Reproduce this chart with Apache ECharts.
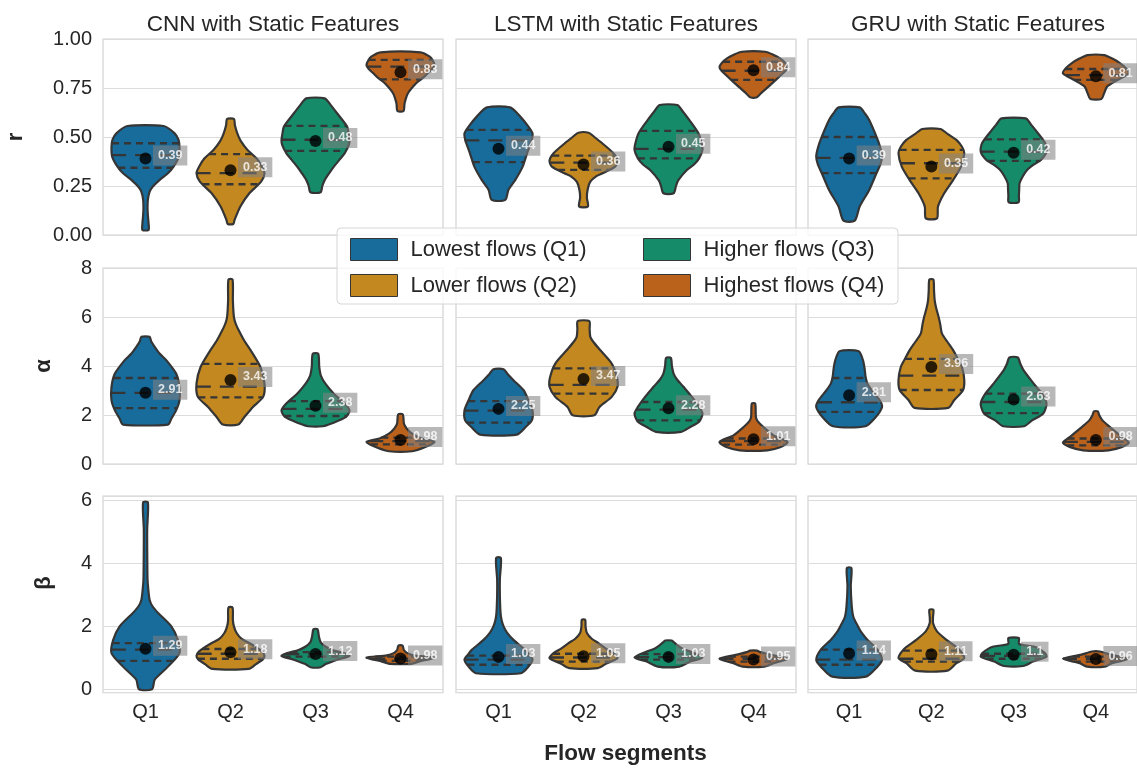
<!DOCTYPE html>
<html>
<head>
<meta charset="utf-8">
<script src="https://cdn.jsdelivr.net/npm/echarts@6/dist/echarts.min.js"></script>
<style>
  html, body { margin: 0; padding: 0; background: #ffffff; }
  #chart { width: 1137px; height: 768px; }
</style>
</head>
<body>
<div id="chart"></div>
<script>
// ---- categories, groups, titles ----
const categories = ['Q1', 'Q2', 'Q3', 'Q4'];
const groupNames = ['Lowest flows (Q1)', 'Lower flows (Q2)', 'Higher flows (Q3)', 'Highest flows (Q4)'];
const groupColors = ['#176c9c', '#c38820', '#158b6a', '#ba611b'];
const modelTitles = ['CNN with Static Features', 'LSTM with Static Features', 'GRU with Static Features'];
const metricNames = ['r', 'α', 'β'];
const xAxisTitle = 'Flow segments';

// ---- y tick labels per metric row ----
const rTicks = [0, 0.25, 0.5, 0.75, 1];
const alphaTicks = [0, 2, 4, 6, 8];
const betaTicks = [0, 2, 4, 6];
const betaRange = [-0.11, 6.15];

// ---- violin outlines: [value, relative half-width], bottom to top ----
const rProfilesCNN = [
  [[0.026,0.09],[0.06,0.09],[0.10,0.07],[0.14,0.06],[0.18,0.07],[0.22,0.12],[0.246,0.21],[0.28,0.41],[0.315,0.66],[0.35,0.83],[0.40,0.98],[0.45,1.0],[0.486,0.97],[0.52,0.85],[0.556,0.53]],
  [[0.056,0.08],[0.077,0.12],[0.145,0.29],[0.214,0.56],[0.272,0.9],[0.315,1.0],[0.35,0.92],[0.39,0.77],[0.434,0.5],[0.48,0.3],[0.519,0.2],[0.56,0.13],[0.592,0.1]],
  [[0.218,0.15],[0.25,0.2],[0.28,0.27],[0.315,0.4],[0.349,0.54],[0.383,0.7],[0.418,0.86],[0.46,0.98],[0.485,1.0],[0.52,0.97],[0.553,0.93],[0.62,0.64],[0.66,0.46],[0.697,0.27]],
  [[0.633,0.09],[0.672,0.12],[0.723,0.22],[0.774,0.46],[0.80,0.65],[0.825,0.8],[0.85,0.95],[0.867,1.0],[0.89,0.95],[0.91,0.86],[0.932,0.59]]
];
const rProfilesLSTM = [
  [[0.179,0.2],[0.23,0.29],[0.28,0.49],[0.349,0.71],[0.417,0.84],[0.46,0.93],[0.485,0.98],[0.519,1.0],[0.553,0.88],[0.604,0.64],[0.651,0.34]],
  [[0.145,0.13],[0.19,0.1],[0.23,0.12],[0.272,0.2],[0.30,0.38],[0.315,0.56],[0.349,0.93],[0.379,1.0],[0.417,0.88],[0.468,0.55],[0.50,0.32],[0.522,0.15]],
  [[0.213,0.15],[0.25,0.22],[0.28,0.29],[0.332,0.54],[0.36,0.75],[0.391,0.9],[0.434,1.0],[0.47,0.97],[0.519,0.88],[0.587,0.61],[0.63,0.42],[0.663,0.26]],
  [[0.703,0.1],[0.723,0.22],[0.765,0.49],[0.79,0.65],[0.816,0.81],[0.84,0.95],[0.859,1.0],[0.88,0.92],[0.901,0.78],[0.92,0.58],[0.935,0.34]]
];
const rProfilesGRU = [
  [[0.073,0.17],[0.145,0.32],[0.23,0.61],[0.315,0.83],[0.36,0.95],[0.40,1.0],[0.45,0.94],[0.502,0.83],[0.587,0.61],[0.62,0.48],[0.651,0.32]],
  [[0.085,0.17],[0.145,0.2],[0.213,0.39],[0.28,0.66],[0.349,0.9],[0.417,1.0],[0.45,0.93],[0.485,0.76],[0.515,0.5],[0.541,0.27]],
  [[0.167,0.15],[0.2,0.16],[0.235,0.17],[0.264,0.18],[0.30,0.28],[0.332,0.41],[0.36,0.62],[0.383,0.83],[0.425,1.0],[0.468,0.96],[0.536,0.66],[0.565,0.52],[0.595,0.37]],
  [[0.694,0.17],[0.723,0.25],[0.757,0.34],[0.791,0.66],[0.825,1.0],[0.85,0.92],[0.876,0.74],[0.9,0.5],[0.918,0.25]]
];
const alphaProfilesCNN = [
  [[1.61,0.66],[1.85,0.76],[2.19,0.9],[2.6,1.0],[3.15,1.0],[3.69,0.9],[4.24,0.61],[4.5,0.42],[4.78,0.27],[5.0,0.17],[5.19,0.12]],
  [[1.61,0.23],[1.92,0.41],[2.33,0.66],[2.74,0.96],[3.28,1.0],[3.96,0.88],[4.65,0.59],[5.0,0.42],[5.33,0.29],[5.7,0.16],[6.0,0.1],[6.69,0.07],[7.53,0.06]],
  [[1.54,0.22],[1.65,0.47],[1.92,0.9],[2.19,1.0],[2.47,0.86],[2.87,0.54],[3.28,0.29],[3.6,0.16],[3.96,0.11],[4.5,0.08]],
  [[0.52,0.34],[0.69,0.73],[0.9,1.0],[1.04,0.62],[1.24,0.34],[1.45,0.18],[1.65,0.1],[2.02,0.07]]
];
const alphaProfilesLSTM = [
  [[1.2,0.54],[1.51,0.8],[1.78,0.98],[2.19,1.0],[2.6,0.88],[3.01,0.74],[3.42,0.44],[3.65,0.28],[3.87,0.15]],
  [[1.99,0.32],[2.33,0.47],[2.74,0.83],[3.15,1.0],[3.56,0.98],[4.1,0.83],[4.65,0.49],[5.0,0.28],[5.19,0.2],[5.5,0.18],[5.83,0.17]],
  [[1.31,0.37],[1.51,0.64],[1.72,0.9],[2.06,1.0],[2.33,0.9],[2.74,0.69],[3.15,0.44],[3.45,0.25],[3.69,0.15],[4.0,0.1],[4.33,0.07]],
  [[0.56,0.41],[0.69,0.8],[0.9,1.0],[1.17,0.59],[1.51,0.29],[1.75,0.12],[1.92,0.07],[2.47,0.05]]
];
const alphaProfilesGRU = [
  [[1.54,0.49],[1.92,0.81],[2.33,1.0],[2.6,0.93],[3.01,0.69],[3.3,0.55],[3.56,0.5],[3.9,0.47],[4.24,0.42],[4.6,0.29]],
  [[2.29,0.51],[2.6,0.69],[3.01,0.96],[3.42,1.0],[3.96,0.93],[4.3,0.8],[4.65,0.66],[5.0,0.48],[5.33,0.32],[5.7,0.27],[6.0,0.22],[6.4,0.14],[6.69,0.1],[7.1,0.08],[7.53,0.06]],
  [[1.54,0.32],[1.78,0.56],[2.06,0.9],[2.47,1.0],[2.87,0.86],[3.28,0.61],[3.83,0.3],[4.1,0.2],[4.35,0.13]],
  [[0.56,0.39],[0.69,0.78],[0.86,1.0],[0.97,0.93],[1.15,0.75],[1.38,0.54],[1.6,0.35],[1.78,0.2],[2.0,0.1],[2.15,0.06]]
];
const betaProfilesCNN = [
  [[0.0,0.19],[0.3,0.27],[0.5,0.45],[0.72,0.66],[1.15,1.0],[1.57,0.95],[2.0,0.76],[2.43,0.37],[2.65,0.2],[2.85,0.12],[3.2,0.08],[3.49,0.06],[4.5,0.05],[5.09,0.05],[5.95,0.07]],
  [[0.65,0.54],[0.8,0.75],[0.95,0.95],[1.06,1.0],[1.2,0.93],[1.36,0.72],[1.47,0.55],[1.6,0.33],[1.79,0.18],[2.0,0.1],[2.21,0.07],[2.6,0.06]],
  [[0.7,0.15],[0.8,0.3],[0.94,0.64],[1.06,1.0],[1.15,0.83],[1.25,0.5],[1.36,0.29],[1.5,0.15],[1.68,0.1],[1.91,0.06]],
  [[0.81,0.32],[0.88,0.54],[1.01,1.0],[1.08,0.4],[1.15,0.2],[1.25,0.1],[1.39,0.06]]
];
const betaProfilesLSTM = [
  [[0.51,0.66],[0.72,0.88],[0.94,1.0],[1.1,0.9],[1.26,0.78],[1.57,0.44],[1.8,0.25],[2.0,0.15],[2.2,0.09],[2.43,0.06],[3.0,0.04],[3.49,0.04],[4.18,0.07]],
  [[0.67,0.42],[0.83,0.69],[0.99,1.0],[1.15,0.88],[1.3,0.65],[1.47,0.44],[1.6,0.25],[1.79,0.1],[2.0,0.06],[2.21,0.05]],
  [[0.72,0.32],[0.88,0.64],[1.01,1.0],[1.2,0.64],[1.3,0.4],[1.41,0.25],[1.5,0.15],[1.55,0.1]],
  [[0.72,0.32],[0.83,0.59],[0.97,1.0],[1.1,0.49],[1.18,0.2],[1.23,0.1]]
];
const betaProfilesGRU = [
  [[0.4,0.51],[0.72,0.86],[0.94,1.0],[1.26,0.86],[1.57,0.56],[1.8,0.38],[2.0,0.27],[2.3,0.13],[2.64,0.08],[3.28,0.05],[3.86,0.07]],
  [[0.59,0.49],[0.83,0.76],[0.99,1.0],[1.26,0.85],[1.57,0.46],[1.84,0.17],[2.11,0.05],[2.3,0.05],[2.53,0.06]],
  [[0.74,0.29],[0.88,0.59],[1.04,1.0],[1.15,0.95],[1.3,0.75],[1.36,0.61],[1.4,0.35],[1.45,0.16],[1.63,0.16]],
  [[0.72,0.27],[0.83,0.49],[0.97,1.0],[1.1,0.44],[1.2,0.12]]
];

// ---- quartiles [Q1, median, Q3] ----
const rQuartilesCNN  = [[0.343,0.408,0.468],[0.259,0.316,0.413],[0.429,0.486,0.557],[0.794,0.859,0.893]];
const rQuartilesLSTM = [[0.372,0.483,0.536],[0.332,0.369,0.405],[0.391,0.439,0.531],[0.791,0.838,0.884]];
const rQuartilesGRU  = [[0.316,0.393,0.5],[0.289,0.366,0.434],[0.378,0.425,0.488],[0.791,0.816,0.847]];
const alphaQuartilesCNN  = [[2.28,2.9,3.51],[2.72,3.16,4.09],[1.96,2.25,2.57],[0.8,0.93,1.08]];
const alphaQuartilesLSTM = [[1.69,2.18,2.57],[2.87,3.23,3.9],[1.78,2.22,2.53],[0.79,0.93,1.04]];
const alphaQuartilesGRU  = [[2.13,2.52,3.51],[3.02,3.61,4.29],[2.08,2.53,2.87],[0.76,0.9,1.04]];
const betaQuartilesCNN  = [[0.9,1.26,1.47],[0.97,1.13,1.28],[1.04,1.12,1.18],[0.9,0.97,1.04]];
const betaQuartilesLSTM = [[0.78,0.94,1.07],[0.88,1.01,1.13],[0.94,1.02,1.12],[0.88,0.97,1.04]];
const betaQuartilesGRU  = [[0.78,0.94,1.26],[0.88,0.97,1.23],[0.97,1.06,1.13],[0.88,0.97,1.04]];

// ---- means (dot + label) ----
const rMeansCNN  = [0.39, 0.33, 0.48, 0.83];
const rMeansLSTM = [0.44, 0.36, 0.45, 0.84];
const rMeansGRU  = [0.39, 0.35, 0.42, 0.81];
const alphaMeansCNN  = [2.91, 3.43, 2.38, 0.98];
const alphaMeansLSTM = [2.25, 3.47, 2.28, 1.01];
const alphaMeansGRU  = [2.81, 3.96, 2.63, 0.98];
const betaMeansCNN  = [1.29, 1.18, 1.12, 0.98];
const betaMeansLSTM = [1.03, 1.05, 1.03, 0.95];
const betaMeansGRU  = [1.14, 1.11, 1.1, 0.96];

// panels in row-major order (rows: r, α, β; columns: CNN, LSTM, GRU)
const panels = [
  { profiles: rProfilesCNN, quartiles: rQuartilesCNN, means: rMeansCNN },
  { profiles: rProfilesLSTM, quartiles: rQuartilesLSTM, means: rMeansLSTM },
  { profiles: rProfilesGRU, quartiles: rQuartilesGRU, means: rMeansGRU },
  { profiles: alphaProfilesCNN, quartiles: alphaQuartilesCNN, means: alphaMeansCNN },
  { profiles: alphaProfilesLSTM, quartiles: alphaQuartilesLSTM, means: alphaMeansLSTM },
  { profiles: alphaProfilesGRU, quartiles: alphaQuartilesGRU, means: alphaMeansGRU },
  { profiles: betaProfilesCNN, quartiles: betaQuartilesCNN, means: betaMeansCNN },
  { profiles: betaProfilesLSTM, quartiles: betaQuartilesLSTM, means: betaMeansLSTM },
  { profiles: betaProfilesGRU, quartiles: betaQuartilesGRU, means: betaMeansGRU }
];

// ---- layout ----
const FONT = '"Liberation Sans", Arial, Helvetica, sans-serif';
const TEXT = '#262626';
const EDGE = '#353535';
const GRIDLINE = '#dcdcdc';
const FRAME = '#d2d2d2';
const colLeft = [103, 456, 808];
const panelWidth = 340;
const rowTop = [39, 268, 496];
const rowHeight = [196, 196, 196.7];
const violinWidth = 0.8; // fraction of a category band

function widthAt(profile, v) {
  if (v <= profile[0][0]) return profile[0][1];
  for (let i = 0; i < profile.length - 1; i++) {
    const a = profile[i], b = profile[i + 1];
    if (v >= a[0] && v <= b[0]) {
      const t = (v - a[0]) / (b[0] - a[0] || 1);
      return a[1] + t * (b[1] - a[1]);
    }
  }
  return profile[profile.length - 1][1];
}

function violinRenderer(panel) {
  return function (params, api) {
    const g = api.value(0);
    const profile = panel.profiles[g];
    const quart = panel.quartiles[g];
    const cx = api.coord([g, 0])[0];
    const half = api.size([1, 0])[0] * violinWidth / 2;
    const right = profile.map(p => [cx + p[1] * half, api.coord([g, p[0]])[1]]);
    const left = profile.slice().reverse().map(p => [cx - p[1] * half, api.coord([g, p[0]])[1]]);
    const children = [{
      type: 'polygon',
      shape: { points: right.concat(left), smooth: 0.25 },
      style: { fill: api.visual('color'), stroke: EDGE, lineWidth: 2.2 }
    }];
    quart.forEach((q, i) => {
      const w = widthAt(profile, q) * half;
      const y = api.coord([g, q])[1];
      children.push({
        type: 'line',
        shape: { x1: cx - w, y1: y, x2: cx + w, y2: y },
        style: { stroke: EDGE, lineWidth: 2.3, lineDash: i === 1 ? [14, 9] : [7, 5] }
      });
    });
    return { type: 'group', children };
  };
}

const grids = [], xAxes = [], yAxes = [], series = [];
for (let row = 0; row < 3; row++) {
  for (let col = 0; col < 3; col++) {
    const p = row * 3 + col;
    grids.push({
      left: colLeft[col], top: rowTop[row], width: panelWidth, height: rowHeight[row],
      show: true, borderColor: FRAME, borderWidth: 1.2, backgroundColor: 'transparent'
    });
    xAxes.push({
      type: 'category', gridIndex: p, data: categories, boundaryGap: true,
      axisLine: { show: false }, axisTick: { show: false }, splitLine: { show: false },
      axisLabel: { show: row === 2, fontSize: 20, color: TEXT, fontFamily: FONT, margin: 10 }
    });
    const yBase = {
      type: 'value', gridIndex: p,
      axisLine: { show: false }, axisTick: { show: false },
      splitLine: { show: true, lineStyle: { color: GRIDLINE, width: 1.2 } }
    };
    const labelBase = { show: col === 0, fontSize: 20, color: TEXT, fontFamily: FONT, margin: 11 };
    if (row === 0) {
      yAxes.push(Object.assign({}, yBase, {
        min: rTicks[0], max: rTicks[rTicks.length - 1], interval: rTicks[1] - rTicks[0],
        axisLabel: Object.assign({}, labelBase, { formatter: v => v.toFixed(2) })
      }));
    } else if (row === 1) {
      yAxes.push(Object.assign({}, yBase, {
        min: alphaTicks[0], max: alphaTicks[alphaTicks.length - 1], interval: alphaTicks[1] - alphaTicks[0],
        axisLabel: Object.assign({}, labelBase, { formatter: v => String(v) })
      }));
    } else {
      yAxes.push(Object.assign({}, yBase, {
        min: betaRange[0], max: betaRange[1], splitNumber: 3,
        axisLabel: Object.assign({}, labelBase, {
          formatter: v => betaTicks.some(t => Math.abs(t - v) < 1e-6) ? String(Math.round(v)) : ''
        })
      }));
    }
    const panel = panels[p];
    for (let g = 0; g < 4; g++) {
      series.push({
        type: 'custom', name: groupNames[g], xAxisIndex: p, yAxisIndex: p,
        itemStyle: { color: groupColors[g] },
        renderItem: violinRenderer(panel),
        data: [[g, panel.means[g]]],
        encode: { x: 0, y: 1 },
        clip: false, silent: true, z: 2
      });
    }
    series.push({
      type: 'scatter', xAxisIndex: p, yAxisIndex: p,
      data: panel.means.map((m, g) => [g, m]),
      symbol: 'circle', symbolSize: 12,
      itemStyle: { color: '#000000' },
      silent: true, z: 3,
      label: {
        show: true, position: 'right', distance: 1.5, offset: [0, -3],
        formatter: d => String(d.value[1]),
        color: '#ffffff', fontWeight: 'bold', fontSize: 12.5, fontFamily: FONT,
        backgroundColor: 'rgba(128,128,128,0.7)', padding: [4, 5, 3, 5]
      }
    });
  }
}

const graphics = [];
modelTitles.forEach((t, i) => {
  graphics.push({
    type: 'text', x: colLeft[i] + panelWidth / 2, y: 24.5,
    style: { text: t, fill: TEXT, font: 'normal 22.5px ' + FONT, align: 'center', verticalAlign: 'middle',
             textAlign: 'center', textVerticalAlign: 'middle' }
  });
});
const axisNamePos = [[16, 137], [44, 366], [44, 583]];
metricNames.forEach((m, i) => {
  graphics.push({
    type: 'text', x: axisNamePos[i][0], y: axisNamePos[i][1], rotation: Math.PI / 2,
    style: { text: m, fill: TEXT, font: 'bold 22px ' + FONT, align: 'center', verticalAlign: 'middle',
             textAlign: 'center', textVerticalAlign: 'middle' }
  });
});
graphics.push({
  type: 'text', x: 625.5, y: 754,
  style: { text: xAxisTitle, fill: TEXT, font: 'bold 22.5px ' + FONT, align: 'center', verticalAlign: 'middle',
           textAlign: 'center', textVerticalAlign: 'middle' }
});
// legend frame
graphics.push({
  type: 'rect', z: 4,
  shape: { x: 337, y: 228, width: 561, height: 76, r: 4 },
  style: { fill: 'rgba(255,255,255,0.8)', stroke: '#d6d6d6', lineWidth: 1 }
});

const legendBase = {
  orient: 'vertical', top: 233, itemWidth: 47, itemHeight: 22, itemGap: 13,
  icon: 'rect', selectedMode: false, z: 5,
  itemStyle: { borderColor: EDGE, borderWidth: 1 },
  textStyle: { fontSize: 22, color: TEXT, fontFamily: FONT, lineHeight: 22, padding: [0, 0, 0, 8] }
};

const chart = echarts.init(document.getElementById('chart'), null, { renderer: 'canvas' });
chart.setOption({
  animation: false,
  backgroundColor: '#ffffff',
  grid: grids,
  xAxis: xAxes,
  yAxis: yAxes,
  legend: [
    Object.assign({}, legendBase, { left: 345, data: [groupNames[0], groupNames[1]] }),
    Object.assign({}, legendBase, { left: 638, data: [groupNames[2], groupNames[3]] })
  ],
  graphic: { elements: graphics },
  series: series
});
</script>
</body>
</html>
